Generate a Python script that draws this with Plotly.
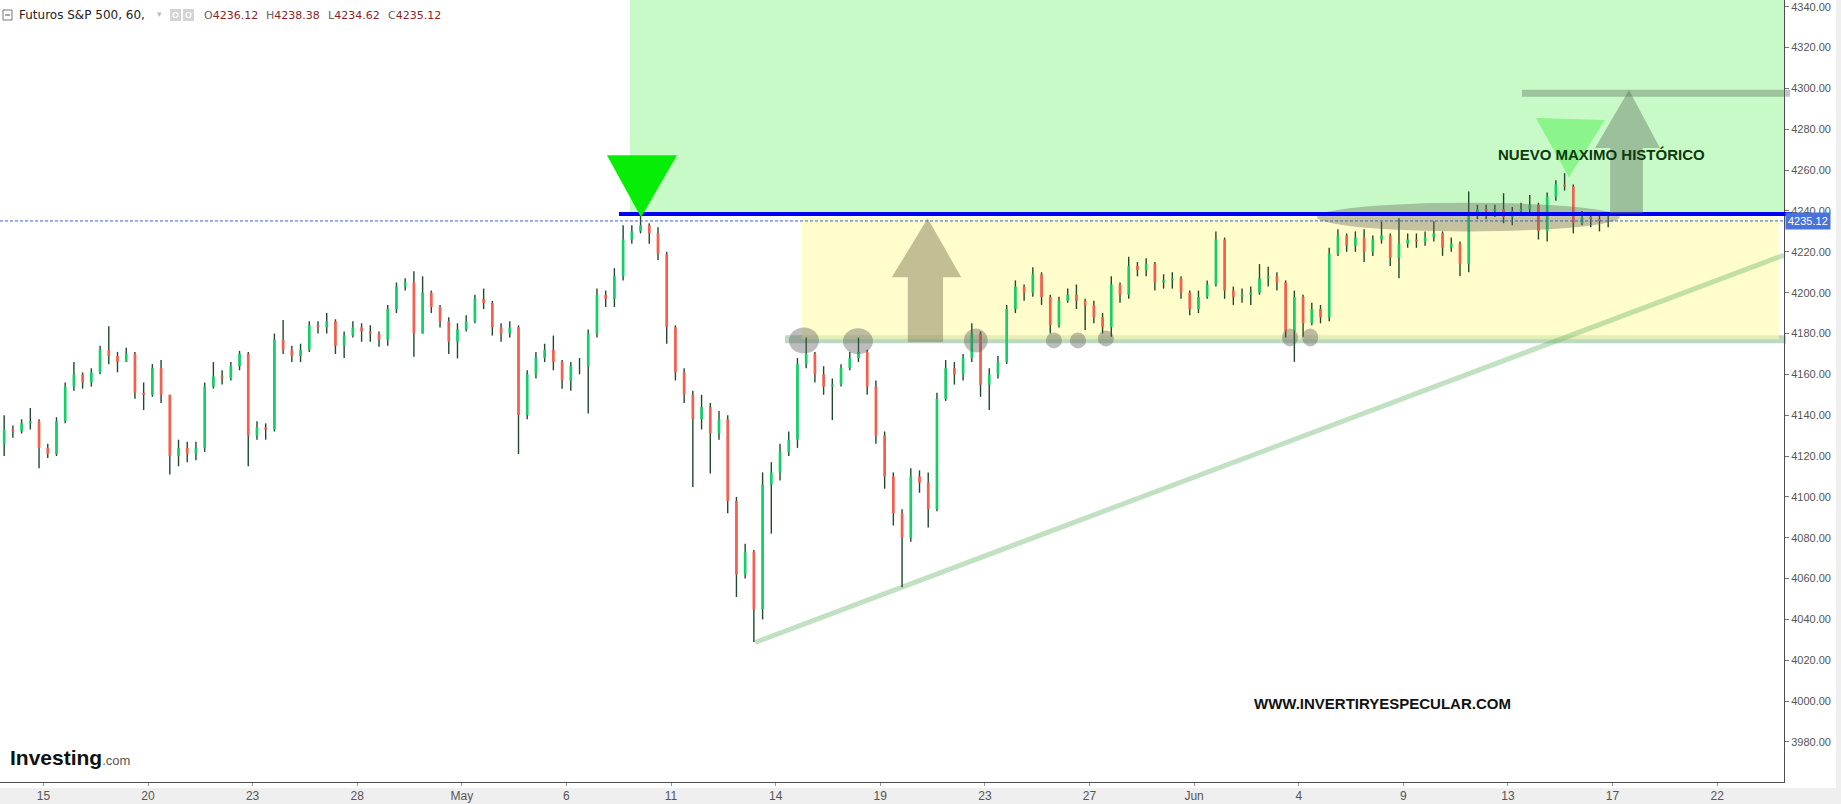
import plotly.graph_objects as go

# ---------------- data ----------------
TICK_LABELS = ["15", "20", "23", "28", "May", "6", "11", "14", "19",
               "23", "27", "Jun", "4", "9", "13", "17", "22"]
TICK_DAYS = [0, 3, 6, 9, 12, 15, 18, 21, 24, 27, 30, 33, 36, 39, 42, 45, 48]

FIRST_DAY = -1.125      # trading-day position of the first 4-hour bar
BARS_PER_DAY = 4
FIRST_OPEN = 4126.0

CLOSES = [
    4133, 4132, 4136, 4137, 4124, 4121, 4137, 4154, 4160, 4156,
    4161, 4172, 4169, 4166, 4170, 4151, 4150, 4163, 4150, 4120,
    4124, 4121, 4124, 4154, 4159, 4158, 4164, 4170, 4130, 4134,
    4133, 4177, 4172, 4169, 4172, 4184, 4183, 4186, 4174, 4179,
    4183, 4181, 4180, 4177, 4192, 4203, 4205, 4180, 4200, 4193,
    4186, 4176, 4182, 4186, 4197, 4195, 4183, 4180, 4183, 4140,
    4160, 4168, 4172, 4166, 4157, 4164, 4164, 4180, 4199, 4197,
    4208, 4226, 4230, 4233, 4229, 4219, 4183, 4161, 4150, 4138,
    4144, 4131, 4138, 4098, 4062, 4073, 4045, 4106, 4112, 4122,
    4128, 4165, 4170, 4160, 4154, 4155, 4163, 4168, 4171, 4154,
    4130, 4110, 4092, 4080, 4110, 4107, 4094, 4148, 4163, 4160,
    4168, 4180, 4155, 4160, 4166, 4192, 4203, 4200, 4209, 4198,
    4184, 4196, 4199, 4196, 4194, 4188, 4183, 4204, 4199, 4213,
    4211, 4214, 4205, 4206, 4207, 4200, 4192, 4198, 4204, 4226,
    4201, 4198, 4199, 4200, 4207, 4208, 4205, 4181, 4198, 4185,
    4192, 4188, 4219, 4228, 4223, 4227, 4220, 4226, 4228, 4217,
    4224, 4226, 4225, 4227, 4229, 4222, 4224, 4214, 4238, 4241,
    4240, 4241, 4237, 4240, 4241, 4243, 4230, 4247, 4253, 4252,
    4234, 4237, 4236, 4235, 4235.12,
]
HIGHS = [
    4140, 4135, 4138, 4143.5, 4138, 4126, 4139, 4156, 4166, 4161,
    4163, 4174, 4183.5, 4171, 4173, 4171, 4156, 4165, 4167, 4150,
    4128, 4127, 4127, 4156, 4166, 4162, 4166, 4171.5, 4171, 4137,
    4136, 4180, 4186.6, 4174, 4175, 4186, 4186, 4190, 4187, 4181,
    4186, 4185, 4184, 4181, 4194, 4205, 4207, 4210.5, 4208, 4201,
    4194, 4188, 4185, 4189, 4199, 4202, 4196, 4185, 4186, 4184,
    4162, 4171, 4175, 4179, 4167, 4166, 4168, 4182, 4202, 4201,
    4212, 4233, 4233, 4238.4, 4234, 4232, 4220, 4184, 4163, 4152,
    4150, 4146, 4142, 4140, 4100, 4077, 4074, 4112, 4117, 4126,
    4132, 4168, 4178, 4171, 4164, 4158, 4165, 4171, 4178, 4172,
    4157, 4132, 4112, 4094, 4114, 4113, 4112, 4151, 4167, 4166,
    4170, 4185, 4181, 4163, 4169, 4194, 4206, 4204, 4212.4, 4210,
    4199, 4198, 4202, 4204, 4197, 4196, 4190, 4208, 4205, 4217.6,
    4215, 4216.8, 4215, 4209, 4210, 4208, 4201, 4201, 4206, 4230,
    4227, 4203, 4202, 4203, 4214, 4212.7, 4210, 4206, 4201, 4199,
    4195, 4194, 4222, 4231, 4229, 4230, 4231, 4228, 4234.8, 4229,
    4236.4, 4229, 4229, 4230, 4235, 4230, 4227, 4225, 4249.5, 4243,
    4243, 4243, 4248.7, 4242, 4244, 4247.8, 4244, 4249, 4255, 4258.5,
    4253, 4240, 4239, 4238, 4238.38,
]
LOWS = [
    4120, 4129, 4131, 4133, 4114, 4119, 4120, 4136, 4152, 4153,
    4154, 4160, 4165, 4161, 4166, 4148, 4142.5, 4149, 4146, 4111,
    4115, 4117, 4118, 4122, 4153, 4155, 4157, 4162, 4115, 4128,
    4128, 4132, 4170, 4166, 4166, 4171, 4180, 4180, 4170, 4168,
    4178, 4176, 4176, 4173.5, 4174, 4190, 4201, 4168.6, 4180, 4190,
    4183, 4170, 4167.8, 4181, 4185, 4192, 4179, 4176, 4178, 4121,
    4138, 4158, 4166, 4162, 4153, 4152, 4160, 4140.8, 4178, 4193,
    4193, 4206, 4224, 4229, 4224, 4216, 4175, 4157, 4146, 4104.9,
    4133, 4111.4, 4128, 4092, 4051, 4060, 4028.9, 4040, 4082, 4108,
    4120, 4124, 4163, 4156, 4150, 4137.6, 4154, 4162, 4166, 4150,
    4126, 4104, 4086, 4055.8, 4078, 4102, 4085, 4093, 4147, 4155,
    4157, 4166, 4149, 4142.5, 4158, 4165, 4190, 4196, 4198, 4194,
    4180, 4183, 4195, 4192, 4181.7, 4185, 4180, 4178.4, 4195, 4197,
    4208, 4208, 4201, 4202, 4202, 4197, 4189, 4190, 4197, 4203,
    4197, 4194, 4195, 4194, 4199, 4203, 4201, 4178, 4166.1, 4178.4,
    4184, 4185, 4186, 4218, 4220, 4220, 4215, 4218, 4224, 4213,
    4207, 4222, 4222, 4223, 4225, 4218, 4220, 4208, 4210, 4236,
    4236, 4237, 4234, 4233, 4238, 4239, 4226, 4225, 4245, 4250,
    4229, 4233, 4232, 4230, 4232,
]

LAST_PRICE = 4235.12
RESISTANCE = 4238.5
SUPPORT = 4177.2
TARGET = 4297.7

# ---------------- derived ----------------
n = len(CLOSES)
xs = [FIRST_DAY + i / BARS_PER_DAY for i in range(n)]
opens = [FIRST_OPEN] + CLOSES[:-1]

UP = "#14cf68"
DOWN = "#f65f4e"
WICK = "#1f4a2c"

wx, wy = [], []
ux, uy, dx, dy = [], [], [], []
for x, o, h, l, c in zip(xs, opens, HIGHS, LOWS, CLOSES):
    wx += [x, x, None]
    wy += [l, h, None]
    if c >= o:
        ux += [x, x, None]
        uy += [o, c, None]
    else:
        dx += [x, x, None]
        dy += [o, c, None]

fig = go.Figure()
fig.add_trace(go.Scatter(x=wx, y=wy, mode="lines",
                         line=dict(color=WICK, width=1.4),
                         hoverinfo="skip", showlegend=False))
fig.add_trace(go.Scatter(x=ux, y=uy, mode="lines",
                         line=dict(color=UP, width=2.7),
                         hoverinfo="skip", showlegend=False))
fig.add_trace(go.Scatter(x=dx, y=dy, mode="lines",
                         line=dict(color=DOWN, width=2.7),
                         hoverinfo="skip", showlegend=False))

# ---------------- geometry helpers (plot area 1784 x 782 px) ----------------
PW, PH = 1784.0, 782.0


def px(x):
    return x / PW


def py(y):
    return 1 - y / PH


shapes = []
# background drawing zones
shapes.append(dict(type="rect", xref="x", yref="y", x0=16.82, x1=49.917,
                   y0=RESISTANCE, y1=4350, fillcolor="rgba(150,246,150,0.52)",
                   line=dict(width=0), layer="below"))
shapes.append(dict(type="rect", xref="x", yref="y", x0=21.75, x1=49.77,
                   y0=SUPPORT, y1=4236.8, fillcolor="rgba(255,252,170,0.6)",
                   line=dict(width=0), layer="below"))
# support band
shapes.append(dict(type="line", xref="paper", yref="y", x0=px(785), x1=px(1786),
                   y0=SUPPORT, y1=SUPPORT,
                   line=dict(color="rgba(110,170,120,0.45)", width=8), layer="below"))
# rising trend line
shapes.append(dict(type="line", xref="x", yref="y", x0=20.41, x1=49.917,
                   y0=4028.7, y1=4218.4,
                   line=dict(color="rgba(110,180,110,0.42)", width=5), layer="below"))
# arrow 1 (tan)
shapes.append(dict(type="path", xref="x", yref="y",
                   path="M 25.36 4236.4 L 26.32 4207.5 L 25.80 4207.5 L 25.80 4175.7 "
                        "L 24.79 4175.7 L 24.79 4207.5 L 24.33 4207.5 Z",
                   fillcolor="rgba(120,115,80,0.45)", line=dict(width=0), layer="above"))
# support circles
circles = [(21.81, 4176.6, 0.43, 6.4), (23.36, 4176.2, 0.43, 6.4),
           (26.74, 4176.6, 0.34, 5.9), (28.98, 4176.6, 0.23, 3.9),
           (29.67, 4176.6, 0.23, 3.9), (30.47, 4177.6, 0.23, 3.9),
           (35.75, 4178.1, 0.23, 4.4), (36.33, 4178.1, 0.23, 4.4)]
for cx, cy, rx, ry in circles:
    shapes.append(dict(type="circle", xref="x", yref="y", x0=cx - rx, x1=cx + rx,
                       y0=cy - ry, y1=cy + ry, fillcolor="rgba(90,90,90,0.40)",
                       line=dict(width=0), layer="above"))
# consolidation ellipse
shapes.append(dict(type="circle", xref="x", yref="y", x0=36.52, x1=45.21,
                   y0=4230.0, y1=4244.0, fillcolor="rgba(100,100,85,0.38)",
                   line=dict(width=0), layer="above"))
# resistance (blue)
shapes.append(dict(type="line", xref="paper", yref="y", x0=px(619), x1=px(1792),
                   y0=RESISTANCE, y1=RESISTANCE,
                   line=dict(color="#0000f5", width=4), layer="above"))
# last price dotted line
shapes.append(dict(type="line", xref="paper", yref="y", x0=0, x1=1,
                   y0=LAST_PRICE, y1=LAST_PRICE,
                   line=dict(color="#3a5fd8", width=1, dash="3px,2px"), layer="above"))
# green triangles
shapes.append(dict(type="path", xref="x", yref="y",
                   path="M 16.16 4267.3 L 18.17 4267.3 L 17.14 4236.9 Z",
                   fillcolor="#06ee06", line=dict(width=0), layer="above"))
shapes.append(dict(type="path", xref="x", yref="y",
                   path="M 42.80 4285.5 L 44.78 4284.5 L 43.75 4256.5 Z",
                   fillcolor="rgba(40,235,40,0.38)", line=dict(width=0), layer="above"))
# arrow 2 (gray)
shapes.append(dict(type="path", xref="x", yref="y",
                   path="M 45.47 4299.2 L 46.36 4270.8 L 45.87 4270.8 L 45.87 4238.8 "
                        "L 44.93 4238.8 L 44.93 4270.8 L 44.50 4270.8 Z",
                   fillcolor="rgba(95,110,95,0.42)", line=dict(width=0), layer="above"))
# target bar
shapes.append(dict(type="line", xref="paper", yref="y", x0=px(1522), x1=px(1790),
                   y0=TARGET, y1=TARGET,
                   line=dict(color="rgba(95,110,95,0.4)", width=7), layer="above"))
# header icons
shapes.append(dict(type="rect", xref="paper", yref="paper", x0=px(3), x1=px(12),
                   y0=py(20), y1=py(10), line=dict(color="#777", width=1),
                   fillcolor="white", layer="above"))
shapes.append(dict(type="line", xref="paper", yref="paper", x0=px(5), x1=px(10),
                   y0=py(15), y1=py(15), line=dict(color="#555", width=1), layer="above"))
for x0 in (170, 183):
    shapes.append(dict(type="rect", xref="paper", yref="paper", x0=px(x0), x1=px(x0 + 11),
                       y0=py(21), y1=py(9), fillcolor="#d4d4d4", line=dict(width=0),
                       layer="above"))
    shapes.append(dict(type="circle", xref="paper", yref="paper", x0=px(x0 + 3), x1=px(x0 + 8),
                       y0=py(17.5), y1=py(12.5), fillcolor="rgba(0,0,0,0)",
                       line=dict(color="white", width=1.2), layer="above"))
# light gray frame strips (outside plot)
shapes.append(dict(type="rect", xref="paper", yref="paper", x0=-0.01, x1=1.04,
                   y0=py(805), y1=py(788), fillcolor="#efefef", line=dict(width=0),
                   layer="below"))
shapes.append(dict(type="rect", xref="paper", yref="paper", x0=px(1836), x1=px(1845),
                   y0=py(805), y1=py(-2), fillcolor="#efefef", line=dict(width=0),
                   layer="below"))

annotations = [
    dict(text="<b>NUEVO MAXIMO HISTÓRICO</b>", x=44.67, y=4267.8, xref="x", yref="y",
         showarrow=False, font=dict(family="Liberation Sans, Arial", size=15, color="#0b3a0b"),
         xanchor="center", yanchor="middle"),
    dict(text="<b>WWW.INVERTIRYESPECULAR.COM</b>", x=38.40, y=3998.7, xref="x", yref="y",
         showarrow=False, font=dict(family="Liberation Sans, Arial", size=15, color="#111"),
         xanchor="center", yanchor="middle"),
    dict(text=f"{LAST_PRICE:.2f}", x=px(1785), y=LAST_PRICE, xref="paper", yref="y",
         showarrow=False, xanchor="left", yanchor="middle", bgcolor="#4a72dc",
         borderpad=2, font=dict(family="Liberation Sans, Arial", size=11, color="white")),
    dict(text="Futuros S&amp;P 500, 60,", x=px(17), y=py(15), xref="paper", yref="paper",
         showarrow=False, xanchor="left", yanchor="middle",
         font=dict(family="DejaVu Sans", size=12, color="#222")),
    dict(text="▾", x=px(155), y=py(14), xref="paper", yref="paper", showarrow=False,
         xanchor="left", yanchor="middle", font=dict(family="DejaVu Sans", size=9, color="#bbb")),
    dict(text="<b>Investing</b><span style='font-size:13px;color:#555;font-weight:normal'>.com</span>",
         x=px(8), y=py(757), xref="paper", yref="paper", showarrow=False,
         xanchor="left", yanchor="middle",
         font=dict(family="Liberation Sans, Arial", size=21, color="#111")),
]
ohlc = [("O", 4236.12, 202), ("H", 4238.38, 264), ("L", 4234.62, 326), ("C", LAST_PRICE, 386)]
for lab, val, xp in ohlc:
    annotations.append(dict(
        text=f"<span style='color:#666'>{lab}</span>{val:.2f}", x=px(xp), y=py(15),
        xref="paper", yref="paper", showarrow=False, xanchor="left", yanchor="middle",
        font=dict(family="DejaVu Sans", size=11, color="#8a1f1f")))

fig.update_layout(
    width=1841, height=804,
    margin=dict(l=0, r=57, t=0, b=22, pad=0, autoexpand=False),
    paper_bgcolor="white", plot_bgcolor="white",
    showlegend=False, dragmode=False,
    shapes=shapes, annotations=annotations,
    xaxis=dict(range=[-1.2446, 49.917], tickmode="array", tickvals=TICK_DAYS,
               ticktext=TICK_LABELS, showgrid=False, zeroline=False, automargin=False,
               showline=True, linecolor="#4d4d4d", linewidth=1,
               ticks="outside", ticklen=3, tickcolor="#999",
               tickfont=dict(family="Liberation Sans Narrow, Arial Narrow, Liberation Sans",
                             size=12, color="#555"),
               fixedrange=True),
    yaxis=dict(range=[3960.4, 4343.3], side="right", dtick=20, tick0=0,
               tickformat=".2f", showgrid=False, zeroline=False, automargin=False,
               showline=True, linecolor="#4d4d4d", linewidth=1,
               ticks="outside", ticklen=4, tickcolor="#777",
               tickfont=dict(family="Liberation Sans, Arial", size=11, color="#555"),
               fixedrange=True),
)

# remove the browser's default 8px page margin so the figure sits at the window origin
fig.write_html("out.html",
               config={"displayModeBar": False, "staticPlot": True},
               post_script="document.body.style.margin='0';document.body.style.overflow='hidden';")
